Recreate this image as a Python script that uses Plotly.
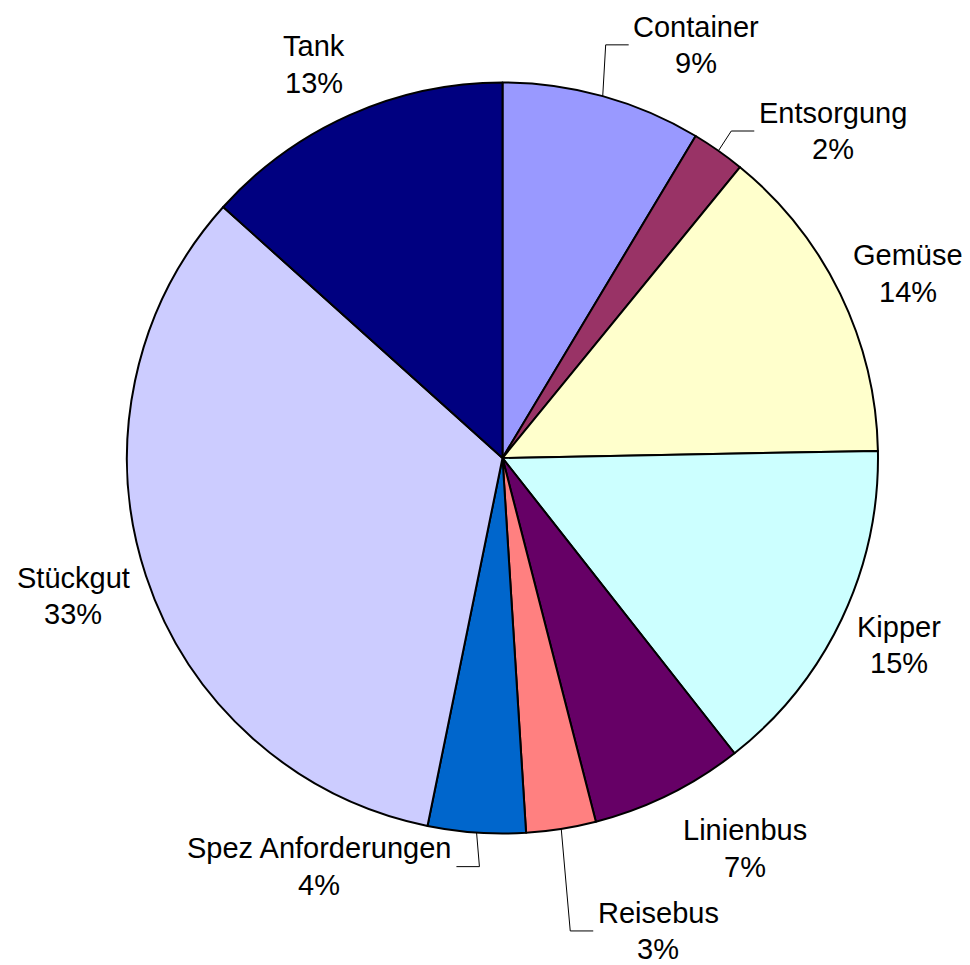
import math
import plotly.graph_objects as go

# ---- data ----
categories = ["Container", "Entsorgung", "Gemüse", "Kipper", "Linienbus",
              "Reisebus", "Spez Anforderungen", "Stückgut", "Tank"]
shares = [8.6, 2.3, 13.8, 14.7, 6.6, 3.0, 4.2, 33.45, 13.35]
colors = ["#9999FF", "#993366", "#FFFFCC", "#CCFFFF", "#660066",
          "#FF8080", "#0066CC", "#CCCCFF", "#000080"]

# ---- label layout (angle nudge from slice middle, distance as factor of radius, leader line) ----
label_nudge = [9.62, 10.2, 1.45, -0.13, -5.56, -9.22, 20.23, 0.46, -1.62]
label_dist = [1.215, 1.238, 1.186, 1.168, 1.224, 1.326, 1.193, 1.201, 1.162]
has_leader = [True, True, False, False, False, True, True, False, False]

FONT = "Liberation Sans, Arial, sans-serif"
FS = 29
LINE_GAP = 36.5
WIDTH, HEIGHT = 970, 965
ML, MT = 119, 74
PW, PH = 751, 752
MR, MB = WIDTH - ML - PW, HEIGHT - MT - PH
CX, CY = ML + PW / 2, MT + PH / 2
R = min(PW, PH) / 2

# Arial advance widths (per 1000 em) for text width estimation
AW = {'C': 722, 'o': 556, 'n': 556, 't': 278, 'a': 556, 'i': 222, 'e': 556, 'r': 333,
      'E': 667, 's': 500, 'g': 556, 'u': 556, 'R': 722, 'b': 556, 'S': 667, 'p': 556,
      'z': 500, ' ': 278, 'A': 667, 'f': 278, 'd': 556, 'G': 778, 'm': 833, 'ü': 556,
      'K': 667, 'L': 556, 'c': 500, 'k': 500, 'T': 611, '%': 889}


def text_w(s):
    return sum(AW.get(ch, 556) for ch in s) * FS / 1000


def to_paper(px, py):
    return (px - ML) / PW, 1 - (py - MT) / PH


total = sum(shares)
fig = go.Figure(go.Pie(
    labels=categories, values=shares, sort=False, direction="clockwise",
    rotation=0, textinfo="none", hoverinfo="label+percent",
    marker=dict(colors=colors, line=dict(color="black", width=2)),
    showlegend=False,
))

annotations = []
shapes = []
cum = 0.0
for i, (cat, v) in enumerate(zip(categories, shares)):
    mid = (cum + v / 2) / total * 360
    cum += v
    pct = round(v / total * 100)
    a = math.radians(mid + label_nudge[i])
    lx = CX + R * label_dist[i] * math.sin(a)
    ly = CY - R * label_dist[i] * math.cos(a)
    for txt, dy in ((cat, -LINE_GAP / 2), (f"{pct}%", LINE_GAP / 2)):
        x, y = to_paper(lx, ly + dy)
        annotations.append(dict(
            x=x, y=y, xref="paper", yref="paper", xanchor="center", yanchor="middle",
            text=txt, showarrow=False, align="center",
            font=dict(family=FONT, size=FS, color="black"),
        ))
    if has_leader[i]:
        m = math.radians(mid)
        sx = CX + R * math.sin(m)
        sy = CY - R * math.cos(m)
        hw = max(text_w(cat), text_w(f"{pct}%")) / 2
        side = 1 if lx > sx else -1
        ex = lx - side * (hw + 4.5)
        bx = ex - side * 23
        p0 = to_paper(sx, sy)
        p1 = to_paper(bx, ly)
        p2 = to_paper(ex, ly)
        path = f"M {p0[0]},{p0[1]} L {p1[0]},{p1[1]} L {p2[0]},{p2[1]}"
        shapes.append(dict(type="path", xref="paper", yref="paper", path=path,
                           line=dict(color="black", width=1)))

fig.update_layout(
    width=WIDTH, height=HEIGHT,
    margin=dict(l=ML, r=MR, t=MT, b=MB, pad=0),
    paper_bgcolor="white", plot_bgcolor="white",
    annotations=annotations, shapes=shapes,
    font=dict(family=FONT, color="black"),
)

fig.write_html("out.html")
